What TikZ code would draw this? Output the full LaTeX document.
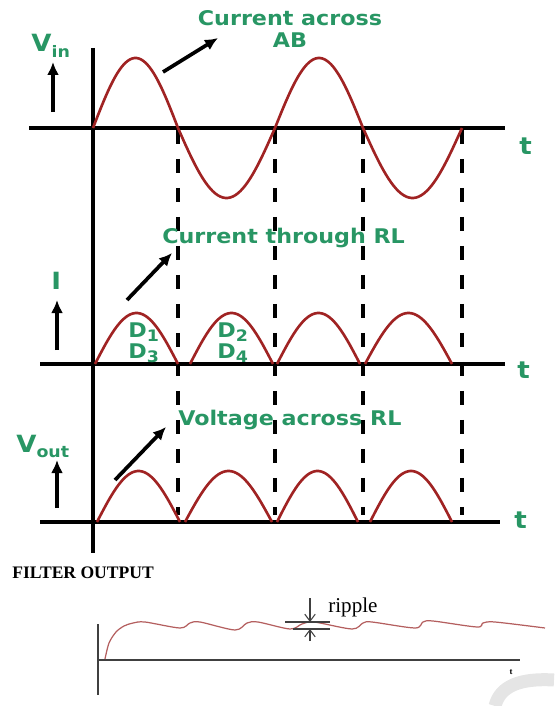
\documentclass[tikz,border=0pt]{standalone}
\usepackage{fontspec}
\usetikzlibrary{arrows.meta}
\newfontfamily\etiq{DejaVu Sans}[FakeStretch=1.1]
\newfontfamily\serifa{Liberation Serif}
\definecolor{verde}{RGB}{40,150,100}
\definecolor{rojo}{RGB}{160,35,35}
\definecolor{rojoclaro}{RGB}{180,95,95}
\newcommand{\bajo}[1]{\raisebox{-0.45ex}{\fontsize{9}{9}\selectfont #1}}

\begin{document}
\begin{tikzpicture}[x=0.02cm, y=-0.02cm,
							eje/.style={line width=1.9pt},
							onda/.style={draw=rojo, line width=1.5pt},
							guia/.style={line width=2.1pt, dash pattern=on 0.28cm off 0.3cm},
							flecha/.style={-{Latex[length=0.26cm,width=0.24cm]}, line width=2.1pt},
							etiqueta/.style={font=\etiq\bfseries\fontsize{11.5}{13}\selectfont, text=verde, inner sep=0pt, anchor=base west},
							grande/.style={etiqueta, font=\etiq\bfseries\fontsize{13.5}{15}\selectfont},
							fino/.style={line width=0.6pt, draw=black!75}
							]
							\useasboundingbox (0,0) rectangle (554,706);
							
							% Líneas de referencia
							\foreach \x in {178,275,363,462}
								\draw[guia] (\x,130) -- (\x,515);
							
							% Ejes
							\draw[eje] (93,48) -- (93,553);
							\draw[eje] (29,128) -- (505,128);
							\draw[eje] (40,364) -- (505,364);
							\draw[eje] (40,522) -- (500,522);
							
							% Ondas
							\foreach \a/\b/\s in {93/178/1, 178/275/-1, 275/363/1, 363/462/-1}
								\draw[onda] plot[domain=\a:\b, samples=40] (\x, {128-\s*70*sin((\x-\a)/(\b-\a)*180)});
							\foreach \a/\b in {95/178, 190/273, 277/360, 365/452}
								\draw[onda] plot[domain=\a:\b, samples=40] (\x, {364-51*sin((\x-\a)/(\b-\a)*180)});
							\foreach \a/\b in {97/180, 185/272, 277/358, 370/452}
								\draw[onda] plot[domain=\a:\b, samples=40] (\x, {522-51*sin((\x-\a)/(\b-\a)*180)});
							
							% Etiquetas
							\node[grande] (vin) at (31,52) {V\bajo{in}};
							\node[etiqueta, anchor=base] (cab) at (290,26) {Current across};
							\node[etiqueta, anchor=base] (cabb) at (290,48) {AB};
							\node[grande] (ii) at (51,289) {I};
							\node[etiqueta] (crl) at (162,243) {Current through RL};
							\node[grande] (vout) at (16,452) {V\bajo{out}};
							\node[etiqueta] (vrl) at (178,425) {Voltage across RL};
							\node[etiqueta] (d1) at (128,337) {D\bajo{1}};
							\node[etiqueta] (d3) at (128,358) {D\bajo{3}};
							\node[etiqueta] (d2) at (217,337) {D\bajo{2}};
							\node[etiqueta] (d4) at (217,358) {D\bajo{4}};
							\node[grande] (t1) at (519,154) {t};
							\node[grande] (t2) at (517,378) {t};
							\node[grande] (t3) at (514,528) {t};
							
							% Flechas
							\coordinate (vin-a) at (53,112); \coordinate (vin-b) at (53,62);
							\coordinate (cab-a) at (163,72); \coordinate (cab-b) at (218,38);
							\coordinate (ii-a) at (57,350); \coordinate (ii-b) at (57,300);
							\coordinate (crl-a) at (127,300); \coordinate (crl-b) at (172,253);
							\coordinate (vout-a) at (57,508); \coordinate (vout-b) at (57,460);
							\coordinate (vrl-a) at (115,480); \coordinate (vrl-b) at (166,427);
							\draw[flecha] (vin-a) -- (vin-b);
							\draw[flecha] (cab-a) -- (cab-b);
							\draw[flecha] (ii-a) -- (ii-b);
							\draw[flecha] (crl-a) -- (crl-b);
							\draw[flecha] (vout-a) -- (vout-b);
							\draw[flecha] (vrl-a) -- (vrl-b);
							
							% Salida del filtro
							\node[font=\serifa\bfseries\fontsize{10}{10}\selectfont, anchor=base west, inner sep=0pt] (filtro) at (12,578) {FILTER OUTPUT};
							\draw[fino] (98,624) -- (98,695);
							\draw[fino] (98,660) -- (520,660);
							\node[font=\serifa\bfseries\fontsize{5}{5}\selectfont, inner sep=0pt] (t4) at (511,672) {t};
							\draw[draw=rojoclaro, line width=0.7pt] plot[smooth, tension=0.5] coordinates {
								(105,659) (109,643) (116,632) (124,626) (133,623) (145,622) (180,628)
								(190,623) (200,622) (235,630) (247,623) (258,622) (290,629)
								(302,624) (314,622) (352,629) (363,623) (372,622) (415,628)
								(423,622) (433,621) (477,627) (483,623) (495,622) (545,628)};
							
							% Marca de rizado
							\draw[fino] (285,622) -- (330,622);
							\draw[fino] (293,629) -- (330,629);
							\coordinate (rip-a) at (310,598); \coordinate (rip-b) at (310,622);
							\coordinate (rip-c) at (310,641); \coordinate (rip-d) at (310,629);
							\draw[fino, -{Straight Barb[length=4pt,width=6pt]}] (rip-a) -- (rip-b);
							\draw[fino, -{Straight Barb[length=4pt,width=6pt]}] (rip-c) -- (rip-d);
							\node[font=\serifa\fontsize{12}{12}\selectfont, anchor=base west, inner sep=0pt] (rip) at (328,612) {ripple};
							
							% Marca de agua
							\draw[black!10, line width=0.26cm] (495,706) .. controls (500,686) and (520,678) .. (554,680);
						\end{tikzpicture}
\end{document}
